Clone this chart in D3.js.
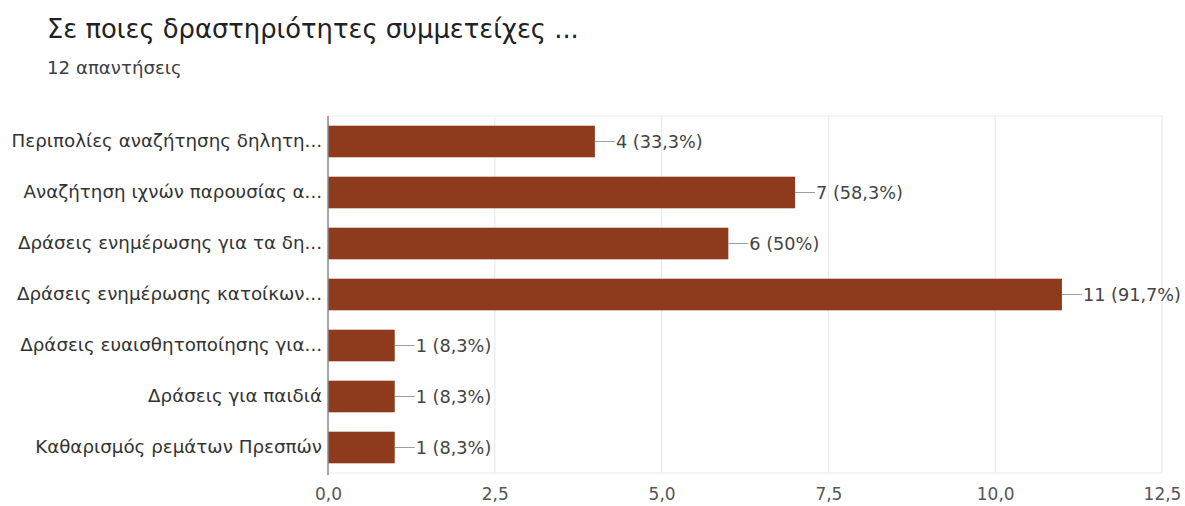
<!DOCTYPE html>
<html>
<head>
<meta charset="utf-8">
<script src="https://cdn.jsdelivr.net/npm/d3@7"></script>
<style>
  html, body { margin: 0; padding: 0; background: #fff; }
  svg { display: block; font-family: "DejaVu Sans", sans-serif; }
</style>
</head>
<body>
<svg id="chart" width="1185" height="506"></svg>
<script>
const title = "Σε ποιες δραστηριότητες συμμετείχες ...";
const subtitle = "12 απαντήσεις";
const categories = [
  "Περιπολίες αναζήτησης δηλητη...",
  "Αναζήτηση ιχνών παρουσίας α...",
  "Δράσεις ενημέρωσης για τα δη...",
  "Δράσεις ενημέρωσης κατοίκων...",
  "Δράσεις ευαισθητοποίησης για...",
  "Δράσεις για παιδιά",
  "Καθαρισμός ρεμάτων Πρεσπών"
];
const counts = [4, 7, 6, 11, 1, 1, 1];
const valueLabels = ["4 (33,3%)", "7 (58,3%)", "6 (50%)", "11 (91,7%)", "1 (8,3%)", "1 (8,3%)", "1 (8,3%)"];
const xTicks = [0, 2.5, 5, 7.5, 10, 12.5];
const xTickLabels = ["0,0", "2,5", "5,0", "7,5", "10,0", "12,5"];

const FONT = "'DejaVu Sans', sans-serif";
const svg = d3.select("#chart");
const m = { left: 328, right: 1162, top: 116, bottom: 473 };

svg.append("text").attr("x", 47).attr("y", 38)
  .attr("font-size", 25.8).attr("fill", "#202124").text(title);
svg.append("text").attr("x", 47).attr("y", 74)
  .attr("font-size", 18.2).attr("fill", "#3c4043").text(subtitle);

const x = d3.scaleLinear().domain([0, 12.5]).range([m.left, m.right]);
const y = d3.scaleBand().domain(categories).range([m.top, m.bottom]).paddingInner(0.38).paddingOuter(0.19);

// gridlines
const grid = svg.append("g");
grid.selectAll("line.v").data(xTicks.slice(1)).join("line")
  .attr("x1", d => x(d)).attr("x2", d => x(d))
  .attr("y1", m.top).attr("y2", m.bottom)
  .attr("stroke", "#ebebeb").attr("stroke-width", 1.2);
grid.append("line").attr("x1", m.left).attr("x2", m.right).attr("y1", m.top).attr("y2", m.top)
  .attr("stroke", "#ebebeb").attr("stroke-width", 1.2);
grid.append("line").attr("x1", m.left).attr("x2", m.right).attr("y1", m.bottom).attr("y2", m.bottom)
  .attr("stroke", "#ebebeb").attr("stroke-width", 1.2);

// bars
svg.append("g").selectAll("rect").data(categories).join("rect")
  .attr("x", x(0))
  .attr("y", d => y(d))
  .attr("width", (d, i) => x(counts[i]) - x(0))
  .attr("height", y.bandwidth())
  .attr("fill", "#8d3b1c");

// connector + value labels
const lab = svg.append("g");
lab.selectAll("line").data(categories).join("line")
  .attr("x1", (d, i) => x(counts[i]))
  .attr("x2", (d, i) => x(counts[i]) + 20)
  .attr("y1", d => y(d) + y.bandwidth() / 2)
  .attr("y2", d => y(d) + y.bandwidth() / 2)
  .attr("stroke", "#9e9e9e").attr("stroke-width", 1);
lab.selectAll("text").data(categories).join("text")
  .attr("x", (d, i) => x(counts[i]) + 21)
  .attr("y", d => y(d) + y.bandwidth() / 2)
  .attr("dy", "0.35em")
  .attr("font-size", 17.7).attr("fill", "#444")
  .text((d, i) => valueLabels[i]);

// y axis
const yAxis = svg.append("g").attr("transform", `translate(${m.left},0)`)
  .call(d3.axisLeft(y).tickSize(0).tickPadding(6));
yAxis.select(".domain").attr("stroke", "#888").attr("stroke-width", 1.5)
  .attr("d", `M0,${m.top}V${m.bottom + 2}`);
yAxis.selectAll("text").attr("font-size", 18.3).attr("fill", "#333")
  .attr("font-family", FONT);

// x axis
const xAxis = svg.append("g").attr("transform", `translate(0,${m.bottom})`)
  .call(d3.axisBottom(x).tickValues(xTicks).tickFormat((d, i) => xTickLabels[i]).tickSize(0).tickPadding(15));
xAxis.select(".domain").remove();
xAxis.selectAll("text").attr("font-size", 17).attr("fill", "#555")
  .attr("font-family", FONT);
</script>
</body>
</html>
